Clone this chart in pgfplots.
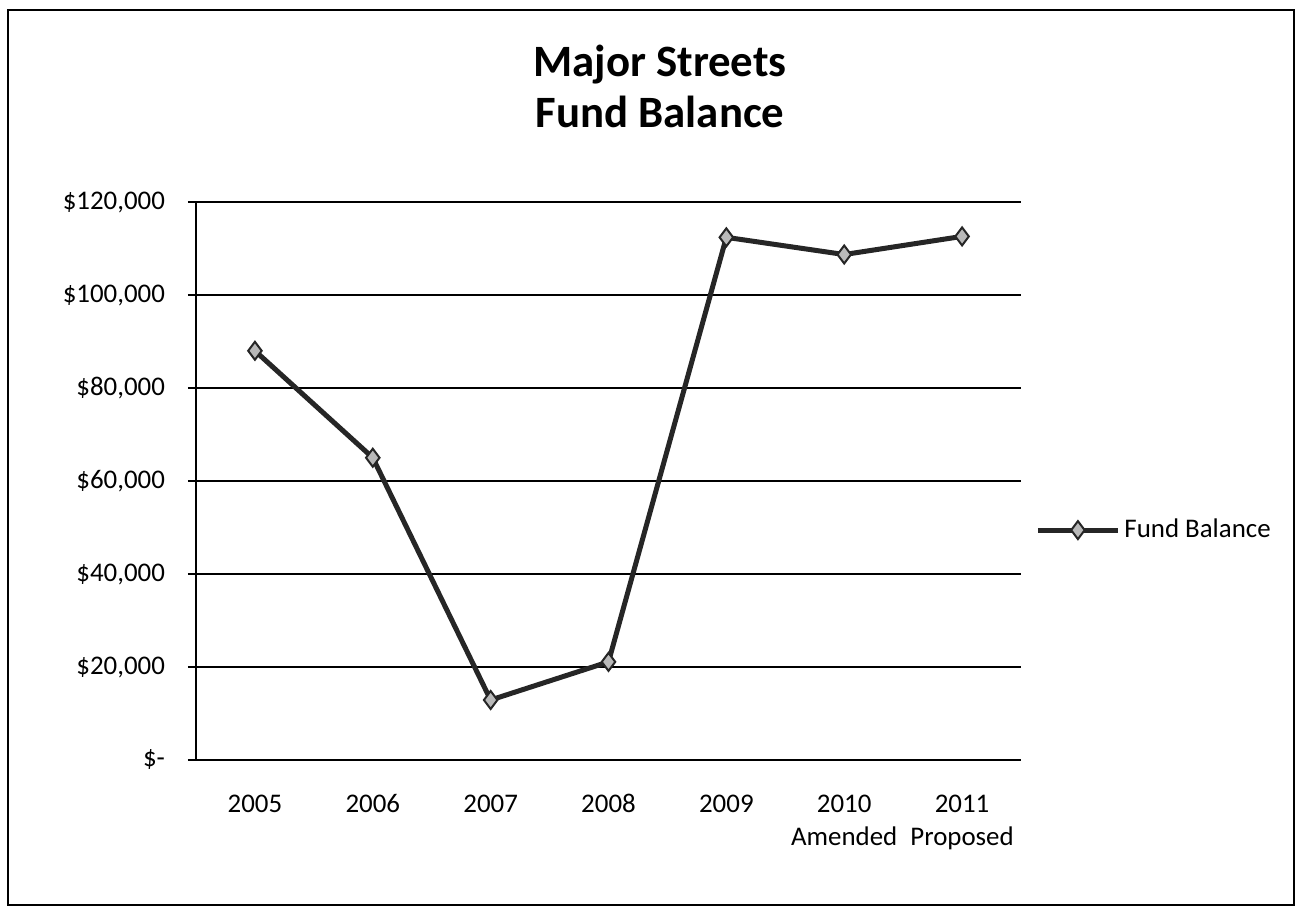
\documentclass[border=0pt]{standalone}
\usepackage{fontspec}
\setmainfont{Carlito}
\usepackage{pgfplots}
\pgfplotsset{compat=1.18}
\begin{document}
\begin{tikzpicture}
\path[use as bounding box] (0bp,0bp) rectangle (648.5bp,454bp);
\draw[line width=1bp] (4bp,1.5bp) rectangle (647bp,449bp);
\node[font=\bfseries\fontsize{22.5}{25.5}\selectfont, anchor=base] at (330bp,415.5bp) {Major Streets};
\node[font=\bfseries\fontsize{22.5}{25.5}\selectfont, anchor=base] at (330bp,390bp) {Fund Balance};
\begin{axis}[
  at={(98bp,74bp)}, anchor=south west,
  scale only axis, width=412.5bp, height=279bp,
  xmin=-0.5, xmax=6.5, ymin=0, ymax=120000,
  scaled y ticks=false,
  axis lines*=left,
  axis line style={black, line width=1bp},
  tick align=outside,
  major tick length=4bp, minor tick length=4bp,
  xtick={0,1,2,3,4,5,6},
  xticklabels={\strut 2005,\strut 2006,\strut 2007,\strut 2008,\strut 2009,{\strut 2010\\\strut Amended},{\strut 2011\\\strut Proposed}},
  minor xtick={-0.5,0.5,1.5,2.5,3.5,4.5,5.5,6.5},
  xtick style={draw=none},
  minor tick style={black, line width=0.8bp},
  ytick={0,20000,40000,60000,80000,100000,120000},
  yticklabels={\$-\hspace{6bp},{\$20,000},{\$40,000},{\$60,000},{\$80,000},{\$100,000},{\$120,000}},
  ytick style={black, line width=0.8bp},
  xticklabel style={font=\fontsize{13.5}{16.8}\selectfont, align=center, anchor=north, yshift=-7bp},
  yticklabel style={font=\fontsize{13.5}{16.5}\selectfont, xshift=-8bp},
  ymajorgrids,
  grid style={black, line width=0.8bp},
  legend style={at={(1.017,0.412)}, anchor=west, draw=none, fill=none,
    font=\fontsize{13.5}{16.5}\selectfont, inner sep=0pt},
  legend image code/.code={\draw[mark repeat=2,mark phase=2] plot coordinates {(0bp,0bp) (20bp,0bp) (40bp,0bp)};},
  clip=false,
]
\addplot[color=black!85, line width=2.5bp, mark=diamond*, mark size=4.5bp,
  mark options={fill=gray!55, draw=black!85, line width=1bp}]
  coordinates {(0,88000) (1,65000) (2,12900) (3,21100) (4,112400) (5,108700) (6,112600)};
\addlegendentry{Fund Balance}
\end{axis}
\end{tikzpicture}
\end{document}
